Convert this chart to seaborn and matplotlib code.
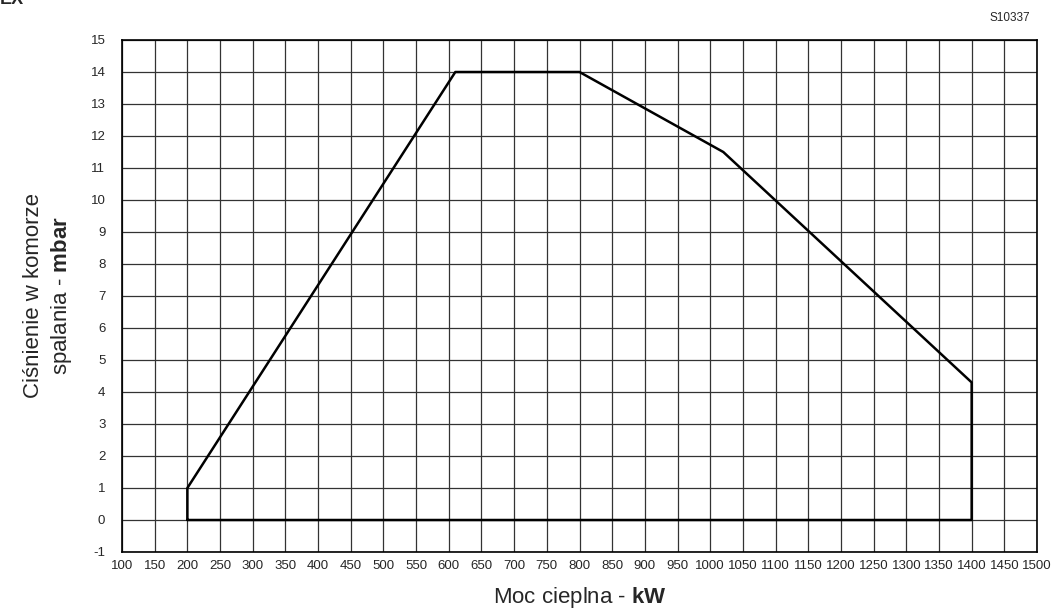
import matplotlib
matplotlib.use("Agg")
import matplotlib.pyplot as plt
import seaborn as sns
import pandas as pd
import numpy as np

# working field outline (kW vs mbar)
moc_kw = [200, 200, 610, 800, 1020, 1400, 1400, 200]
cisnienie_mbar = [0, 1, 14, 14, 11.5, 4.3, 0, 0]

x_ticks = list(range(100, 1501, 50))
y_ticks = list(range(-1, 16))

sns.set_style("white")
plt.rcParams['font.family'] = ['Liberation Sans', 'DejaVu Sans']
plt.rcParams['mathtext.fontset'] = 'custom'
plt.rcParams['mathtext.rm'] = 'Liberation Sans'
plt.rcParams['mathtext.bf'] = 'Liberation Sans:bold'
plt.rcParams['axes.unicode_minus'] = False

df = pd.DataFrame({'kW': moc_kw, 'mbar': cisnienie_mbar})

fig = plt.figure(figsize=(10.51, 6.14), dpi=100)
ax = fig.add_axes([122 / 1051, 1 - 552 / 614, (1037 - 122) / 1051, (552 - 40) / 614])

sns.lineplot(data=df, x='kW', y='mbar', sort=False, estimator=None,
             color='black', linewidth=1.8, ax=ax)

ax.set_xlim(100, 1500)
ax.set_ylim(-1, 15)
ax.set_xticks(x_ticks)
ax.set_yticks(y_ticks)
ax.grid(True, color='#333333', linewidth=0.9)
ax.set_axisbelow(True)
ax.tick_params(axis='x', length=0, labelsize=9.5, pad=6)
ax.tick_params(axis='y', length=0, labelsize=9.5, pad=12)
for s in ax.spines.values():
    s.set_color('black')
    s.set_linewidth(1.2)

ax.set_xlabel('Moc cieplna - $\\mathbf{kW}$', fontsize=16, labelpad=9)
ax.set_ylabel('Ciśnienie w komorze\nspalania - $\\mathbf{mbar}$', fontsize=16, labelpad=12,
              linespacing=1.25)

fig.text(1010 / 1051, 1 - 18 / 614, 'S10337', fontsize=8.5, ha='center', va='center')
fig.text(0.0, 1.0, 'EX', fontsize=13, fontweight='bold', ha='left', va='center')

fig.savefig('out.png', dpi=100)
